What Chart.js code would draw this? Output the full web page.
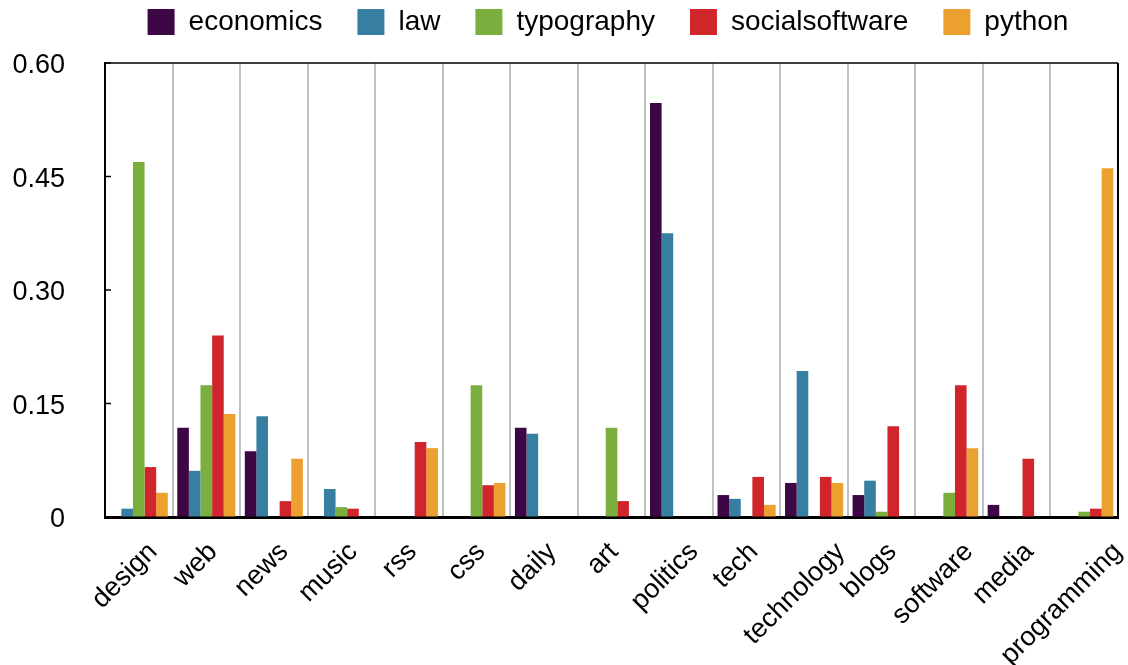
<!DOCTYPE html>
<html>
<head>
<meta charset="utf-8">
<script src="https://cdn.jsdelivr.net/npm/chart.js@4/dist/chart.umd.min.js"></script>
<style>
  html, body { margin: 0; padding: 0; background: #fff; }
  #wrap { width: 1128px; height: 665px; }
</style>
</head>
<body>
<div id="wrap"><canvas id="myChart" width="1128" height="665"></canvas></div>
<script>
const categories = ['design', 'web', 'news', 'music', 'rss', 'css', 'daily', 'art',
    'politics', 'tech', 'technology', 'blogs', 'software', 'media', 'programming'];

const economics      = [0,     0.118, 0.087, 0,     0,     0,     0.118, 0,     0.547, 0.029, 0.045, 0.029, 0,     0.016, 0];
const law            = [0.011, 0.061, 0.133, 0.037, 0,     0,     0.110, 0,     0.375, 0.024, 0.193, 0.048, 0,     0,     0];
const typography     = [0.469, 0.174, 0,     0.013, 0,     0.174, 0,     0.118, 0,     0,     0,     0.007, 0.032, 0,     0.007];
const socialsoftware = [0.066, 0.240, 0.021, 0.011, 0.099, 0.042, 0,     0.021, 0,     0.053, 0.053, 0.120, 0.174, 0.077, 0.011];
const python         = [0.032, 0.136, 0.077, 0,     0.091, 0.045, 0,     0,     0,     0.016, 0.045, 0,     0.091, 0,     0.461];

const yTicks = [0, 0.15, 0.30, 0.45, 0.60];

const seriesNames = ['economics', 'law', 'typography', 'socialsoftware', 'python'];
const seriesData = [economics, law, typography, socialsoftware, python];
const colors = ['#3d0745', '#367fa1', '#7aaf3e', '#d1252c', '#eca030'];

const FONT = '"Liberation Sans", Arial, Helvetica, sans-serif';

// frame on top/right, small inward ticks on the y axis, slanted category labels
const framePlugin = {
    id: 'frame',
    beforeLayout(chart) {
        // leave a gap between the legend and the plot area
        const lg = chart.legend;
        if (lg && !lg._gapPatched) {
            const fit = lg.fit;
            lg.fit = function () { fit.call(this); this.height += 17; };
            lg._gapPatched = true;
        }
    },
    afterLayout(chart) {
        // centre the legend over the plot rather than the whole canvas
        if (chart.legend) chart.legend.left = chart.chartArea.left - 7;
    },
    afterDraw(chart) {
        const { ctx, chartArea: a, scales } = chart;
        ctx.save();
        ctx.strokeStyle = '#000';
        ctx.lineWidth = 1.5;
        ctx.beginPath();
        ctx.moveTo(a.left, a.top);
        ctx.lineTo(a.right, a.top);
        ctx.stroke();
        ctx.lineWidth = 2;
        ctx.beginPath();
        ctx.moveTo(a.right, a.top);
        ctx.lineTo(a.right, a.bottom);
        ctx.stroke();
        ctx.lineWidth = 1.5;
        scales.y.ticks.forEach(t => {
            const y = scales.y.getPixelForValue(t.value);
            ctx.beginPath();
            ctx.moveTo(a.left, y);
            ctx.lineTo(a.left + 6, y);
            ctx.stroke();
        });

        const xs = scales.x;
        ctx.font = '27px ' + FONT;
        ctx.fillStyle = '#000';
        ctx.textAlign = 'right';
        ctx.textBaseline = 'alphabetic';
        categories.forEach((lab, i) => {
            const x = xs.getPixelForTick(i);
            const w = ctx.measureText(lab).width;
            ctx.save();
            ctx.translate(x + 0.245 * w, xs.top + 36);
            ctx.rotate(-Math.PI / 4);
            ctx.fillText(lab, 0, 0);
            ctx.restore();
        });
        ctx.restore();
    }
};

const ctx = document.getElementById('myChart').getContext('2d');

const chart = new Chart(ctx, {
    type: 'bar',
    data: {
        labels: categories,
        datasets: seriesNames.map((name, i) => ({
            label: name,
            data: seriesData[i],
            backgroundColor: colors[i],
            borderWidth: 0,
            categoryPercentage: 0.86,
            barPercentage: 1.0
        }))
    },
    options: {
        responsive: false,
        animation: false,
        devicePixelRatio: 1,
        layout: { padding: { left: 0, right: 10, top: -27, bottom: 0 } },
        plugins: {
            legend: {
                position: 'top',
                labels: {
                    boxWidth: 27,
                    boxHeight: 26,
                    padding: 35,
                    color: '#000',
                    font: { family: FONT, size: 28 }
                }
            },
            tooltip: { enabled: false }
        },
        scales: {
            x: {
                grid: { color: '#c0c0c0', lineWidth: 2, offset: true, drawTicks: false },
                border: { color: '#000', width: 3 },
                ticks: { display: false },
                afterFit(scale) { scale.height = 148; }
            },
            y: {
                min: 0,
                max: 0.6,
                grid: { drawOnChartArea: false, drawTicks: false },
                border: { color: '#000', width: 2 },
                afterBuildTicks(scale) {
                    scale.ticks = yTicks.map(v => ({ value: v }));
                },
                ticks: {
                    color: '#000',
                    font: { family: FONT, size: 27 },
                    padding: 40,
                    labelOffset: 3,
                    callback: v => (v === 0 ? '0' : Number(v).toFixed(2))
                },
                afterFit(scale) { scale.width = 105; }
            }
        }
    },
    plugins: [framePlugin]
});
</script>
</body>
</html>
